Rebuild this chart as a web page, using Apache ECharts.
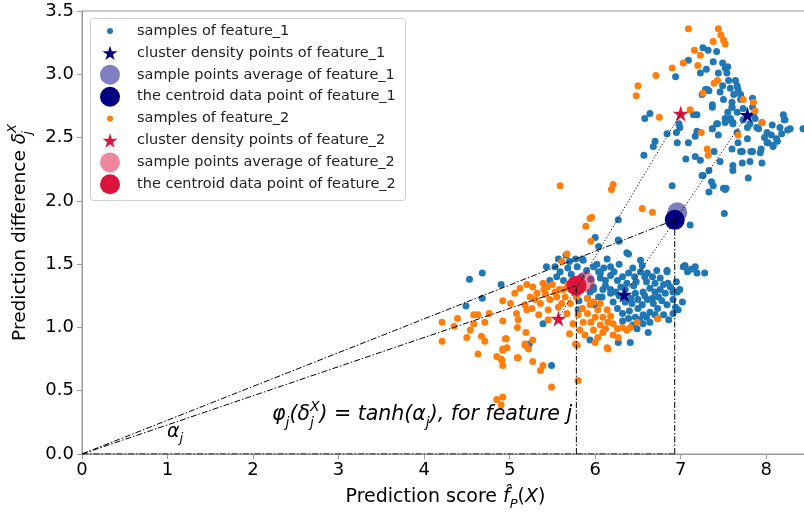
<!DOCTYPE html>
<html>
<head>
<meta charset="utf-8">
<script src="https://cdn.jsdelivr.net/npm/echarts@6/dist/echarts.min.js"></script>
<style>
  html, body { margin: 0; padding: 0; background: #fff; }
  #chart { width: 804px; height: 512px; }
</style>
</head>
<body>
<div id="chart"></div>
<script>
// samples of feature_1 (blue)
var samples1 = [
  [4.53,1.38],[4.68,1.43],[4.90,1.34],[4.49,1.17],[4.68,1.23],[5.43,1.48],[5.39,1.03],[5.23,0.87],
  [5.49,0.70],[5.57,1.54],[5.94,0.90],[5.53,1.48],[5.59,1.44],[5.47,1.37],[5.55,1.40],[5.63,1.37],
  [5.68,1.47],[5.77,1.54],[5.86,1.53],[5.98,1.48],[6.06,1.43],[6.12,1.37],[6.18,1.30],[6.08,1.24],
  [5.98,1.30],[6.00,1.18],[5.91,1.23],[5.81,1.21],[5.80,1.14],[6.14,1.54],[6.39,1.58],[6.53,1.53],
  [6.55,1.49],[6.18,1.48],[5.79,1.48],[5.85,1.54],[5.66,1.57],[6.04,1.44],[6.06,1.39],[6.18,1.41],
  [6.26,1.37],[6.32,1.40],[6.37,1.35],[6.39,1.43],[6.46,1.40],[6.53,1.44],[6.61,1.43],[6.67,1.40],
  [6.76,1.39],[6.84,1.44],[6.85,1.35],[6.76,1.30],[6.70,1.35],[6.64,1.31],[6.56,1.28],[6.47,1.27],
  [6.50,1.22],[6.43,1.19],[6.55,1.18],[6.61,1.22],[6.67,1.23],[6.74,1.24],[6.82,1.27],[6.91,1.28],
  [6.99,1.30],[7.05,1.49],[7.08,1.44],[7.17,1.48],[7.19,1.43],[7.02,1.20],[6.91,1.22],[6.84,1.18],
  [6.73,1.15],[6.64,1.12],[6.56,1.10],[6.47,1.08],[6.39,1.07],[6.32,1.11],[6.26,1.15],[6.21,1.20],
  [6.18,1.27],[6.09,1.30],[6.04,1.24],[5.98,1.32],[5.94,1.28],[6.80,1.10],[6.73,1.07],[6.64,1.04],
  [6.56,1.03],[6.49,0.99],[6.62,0.96],[6.41,0.88],[6.27,0.88],[6.91,1.11],[6.94,1.16],[7.03,1.48],
  [6.84,1.45],[6.96,1.28],[6.27,1.69],[6.04,1.64],[7.12,1.46],[7.28,1.43],[6.35,1.30],[6.45,1.33],
  [6.28,1.25],[6.70,1.28],[6.60,1.36],[6.88,1.32],[6.50,1.15],[6.35,1.20],
  [5.72,1.42],[5.90,1.45],[5.95,1.38],[6.02,1.50],[6.10,1.47],[6.22,1.44],[6.28,1.50],[6.44,1.47],
  [6.48,1.36],[6.58,1.40],[6.72,1.45],[6.80,1.34],[6.95,1.36],[6.68,1.19],[6.78,1.21],[6.58,1.25],
  [6.42,1.23],[6.30,1.32],[6.24,1.28],[6.12,1.33],[6.40,1.13],[6.52,1.06],[6.60,1.08],[6.70,1.10],
  [6.86,1.06],[6.97,1.14],[6.44,1.02],[6.32,1.05],[5.84,1.40],[5.70,1.52],
  [6.90,2.12],[6.27,1.85],[7.11,1.81],[6.28,1.68],[6.37,1.59],[6.00,1.71],[7.51,1.90],
  [7.79,2.18],[7.33,2.07],[7.50,2.10],[7.53,2.10],[7.36,2.15],[7.25,2.20],[7.33,2.24],[7.61,2.24],
  [7.61,2.28],[7.72,2.30],[7.81,2.31],[7.95,2.30],[7.93,2.38],[7.84,2.39],[7.72,2.39],[7.60,2.41],
  [7.46,2.31],[7.39,2.39],[7.23,2.32],[7.17,2.35],[7.06,2.33],[7.09,2.46],[6.96,2.46],[6.70,2.47],
  [6.68,2.43],[6.57,2.36],[6.84,2.53],[6.95,2.54],[6.99,2.58],[7.37,2.57],[7.44,2.52],[7.67,2.46],
  [7.78,2.49],[7.94,2.41],[8.01,2.46],[8.08,2.44],[8.13,2.47],[8.06,2.52],[8.01,2.54],[7.89,2.58],
  [8.07,2.60],[8.20,2.68],[8.21,2.64],[8.25,2.56],[8.28,2.57],[8.16,2.58],[7.95,2.62],[7.87,2.65],
  [7.81,2.61],[7.61,2.62],[7.58,2.65],[7.52,2.62],[7.73,2.64],[7.43,2.61],[7.37,2.74],[7.60,2.74],
  [7.15,2.68],[7.19,2.68],[6.64,2.69],[6.58,2.65],[8.43,2.57],[8.12,2.49],[7.66,2.54],[7.17,2.51],
  [7.19,2.55],[7.26,3.21],[7.32,3.19],[7.42,3.18],[7.09,3.11],[7.38,3.10],[7.49,3.09],[7.52,3.05],
  [7.30,3.04],[7.23,3.01],[7.54,3.01],[6.94,2.98],[7.56,2.95],[7.64,2.95],[7.66,2.91],[7.49,2.91],
  [7.58,2.89],[7.31,2.88],[7.67,2.88],[7.25,2.84],[7.70,2.84],[7.50,2.80],[7.60,2.78],[7.84,2.81],
  [7.37,2.76],[7.60,2.74],[7.84,2.74],[7.85,2.68],[7.52,2.65],[7.58,2.64],[7.61,2.61],[7.42,2.61],
  [6.98,2.61],[7.37,2.57],[7.91,2.57],[8.22,2.64],[8.02,2.46],[8.08,2.43],[7.70,2.39],[7.82,2.39],
  [7.38,2.12],[7.52,2.09],[7.26,2.20],[7.44,3.01],[7.29,2.88],[7.33,2.87],[7.70,2.80],[7.73,2.73],
  [7.66,2.70],[7.78,2.58],[7.98,2.50],[8.18,2.53],[7.55,2.70],[7.46,2.86],[7.62,2.84],[7.55,3.06]
];

// samples of feature_2 (orange)
var samples2 = [
  [4.21,1.04],[4.21,0.89],[4.39,1.07],[4.35,1.01],[4.50,0.92],[4.54,0.98],[4.58,1.10],[4.63,1.10],
  [4.58,1.03],[4.71,1.04],[4.76,1.11],[4.67,0.93],[4.71,0.89],[4.63,0.79],[4.92,1.21],[4.92,1.05],
  [4.96,0.91],[4.92,0.83],[4.97,0.84],[4.85,0.77],[4.90,0.75],[4.92,0.70],[5.09,1.00],[5.10,1.06],
  [5.08,1.11],[5.19,0.96],[5.18,0.87],[5.22,0.83],[5.10,0.76],[5.27,0.90],[5.27,0.73],[5.39,0.70],
  [5.36,0.66],[5.49,0.53],[4.85,0.43],[4.92,0.45],[4.90,0.39],[5.01,1.19],[5.06,1.27],[5.12,1.31],
  [5.20,1.34],[5.24,1.24],[5.26,1.15],[5.32,1.27],[5.36,1.19],[5.42,1.26],[5.45,1.14],[5.47,1.22],
  [5.53,1.28],[5.55,1.24],[5.61,1.19],[5.39,1.35],[5.27,1.32],[5.20,1.14],[5.18,1.18],[5.45,1.06],
  [5.63,1.30],[4.91,0.74],[5.09,0.76],[4.92,0.82],[4.95,0.91],[5.18,0.86],[5.80,0.58],[5.77,0.87],
  [5.88,0.94],[6.14,0.84],[5.67,1.58],[5.61,1.52],[5.95,1.68],[5.30,1.22],[5.40,1.30],[5.50,1.34],
  [5.65,1.24],[5.71,1.19],[5.67,1.11],[5.74,1.03],[5.82,0.98],[5.86,1.04],[5.91,1.11],[5.94,1.18],
  [5.91,1.23],[5.98,1.20],[6.03,1.14],[6.06,1.19],[6.09,1.08],[6.14,1.14],[6.15,1.04],[6.21,1.03],
  [6.26,0.99],[6.32,1.00],[6.37,0.98],[6.21,0.94],[6.27,0.92],[6.06,1.02],[6.09,0.96],[5.98,0.98],
  [6.03,0.92],[6.15,0.83],[6.73,1.07],[6.49,1.04],[6.41,1.00],[5.79,0.86],[5.72,1.30],[5.75,1.36],
  [6.00,1.08],[6.18,1.09],[5.85,1.15],[5.58,1.30],[5.68,1.34],[5.44,1.32],[5.34,1.10],[5.78,1.24],
  [5.80,1.10],[5.95,1.04],[6.12,0.99],[6.00,0.88],[5.70,0.95],[5.57,1.16],
  [5.59,2.12],[6.21,2.13],[6.19,2.09],[5.96,1.87],[5.94,1.86],[5.89,1.80],[6.55,1.94],[6.67,1.91],
  [7.09,3.36],[7.44,3.36],[7.47,3.31],[7.50,3.27],[7.52,3.24],[7.38,3.26],[7.16,3.19],[7.23,3.15],
  [7.03,3.09],[6.90,3.05],[6.71,2.99],[7.20,3.07],[7.43,2.95],[7.39,2.93],[7.26,2.85],[6.50,2.91],
  [6.48,2.83],[6.75,2.66],[7.11,2.72],[7.73,2.80],[7.85,2.78],[7.87,2.71],[7.95,2.62],[7.67,2.52],
  [7.24,2.54],[7.31,2.41],[7.32,2.36]
];

var stars1 = [[7.78,2.68],[6.34,1.26]];
var average1 = [[6.96,1.91]];
var centroid1 = [[6.93,1.85]];
var stars2 = [[7.00,2.69],[5.57,1.07]];
var average2 = [[5.88,1.36]];
var centroid2 = [[5.78,1.33]];

var xTicks = [0, 1, 2, 3, 4, 5, 6, 7, 8];
var yTicks = ['0.0', '0.5', '1.0', '1.5', '2.0', '2.5', '3.0', '3.5'];

var names = [
  'samples of feature_1',
  'cluster density points of feature_1',
  'sample points average of feature_1',
  'the centroid data point of feature_1',
  'samples of feature_2',
  'cluster density points of feature_2',
  'sample points average of feature_2',
  'the centroid data point of feature_2'
];

var FONT = 'DejaVu Sans';
var STAR = 'path://M100 0 L122.45 69.1 L195.1 69.1 L136.3 111.8 L158.8 180.9 L100 138.2 L41.2 180.9 L63.7 111.8 L4.9 69.1 L77.55 69.1 Z';
var legendIcon = [6, 15, 20, 20, 6, 15, 20, 20];

var chart = echarts.init(document.getElementById('chart'), null, { renderer: 'canvas' });

function guide(pts, dash) {
  return {
    type: 'line', data: pts, symbol: 'none', silent: true, z: 5,
    lineStyle: { color: '#000', width: 1, type: dash }
  };
}
function dots(i, data, symbol, size, color) {
  return {
    name: names[i], type: 'scatter', data: data, symbol: symbol, symbolSize: size,
    itemStyle: { color: color, opacity: 1 }
  };
}
var dashDot = [6, 2, 1.5, 2];
var dotted = [1.2, 2];

// one legend per row so every icon keeps its own size; icons centred on x=110, text from x=137
var legends = names.map(function (n, i) {
  var w = legendIcon[i];
  return {
    left: 110 - w / 2, top: 20 + i * 21.9, padding: 0, z: 12,
    itemWidth: w, itemHeight: w, itemGap: 0,
    selectedMode: false, data: [n],
    itemStyle: { opacity: 1 },
    textStyle: {
      fontFamily: FONT, fontSize: 14.5, color: '#222', lineHeight: 22,
      padding: [0, 0, 0, 22 - w / 2]
    }
  };
});

var sub = { fontFamily: FONT, fontSize: 13, fontStyle: 'italic', lineHeight: 13, verticalAlign: 'bottom', color: '#000' };
var subStack = Object.assign({}, sub, { width: 0 });
var sup = { fontFamily: FONT, fontSize: 13, fontStyle: 'italic', lineHeight: 13, verticalAlign: 'top', color: '#000' };

var option = {
  animation: false,
  backgroundColor: '#fff',
  grid: {
    left: 82, right: -5, top: 11, bottom: 58, outerBoundsMode: 'none', containLabel: false,
    show: true, borderColor: '#999', borderWidth: 1, backgroundColor: 'transparent'
  },
  legend: legends,
  xAxis: {
    type: 'value', min: 0, max: 8.5, interval: 1,
    name: '{a|Prediction score }{f|f\u0302}{s|P}{a|(}{f|X}{a|)}',
    nameLocation: 'middle', nameGap: 29,
    nameTextStyle: {
      rich: {
        a: { fontFamily: FONT, fontSize: 19, lineHeight: 28, color: '#000' },
        f: { fontFamily: FONT, fontSize: 19, fontStyle: 'italic', lineHeight: 28, color: '#000' },
        s: sub
      }
    },
    axisLine: { lineStyle: { color: '#999' } },
    axisTick: { length: 5, lineStyle: { color: '#999' } },
    axisLabel: {
      fontFamily: FONT, fontSize: 18, color: '#000', margin: 7,
      formatter: function (v) { return xTicks.indexOf(v) >= 0 ? String(v) : ''; }
    },
    splitLine: { show: false }
  },
  yAxis: {
    type: 'value', min: 0, max: 3.5, interval: 0.5,
    name: '{a|Prediction difference }{d|\u03b4}{j|j}{p|X}',
    nameLocation: 'middle', nameGap: 36, nameRotate: 90,
    nameTextStyle: {
      rich: {
        a: { fontFamily: FONT, fontSize: 18.5, lineHeight: 28, color: '#000' },
        d: { fontFamily: FONT, fontSize: 18.5, fontStyle: 'italic', lineHeight: 28, color: '#000' },
        j: subStack,
        p: sup
      }
    },
    axisLine: { lineStyle: { color: '#999' } },
    axisTick: { length: 5, lineStyle: { color: '#999' } },
    axisLabel: {
      fontFamily: FONT, fontSize: 18, color: '#000', margin: 8,
      formatter: function (v) { return yTicks[Math.round(v * 2)] || ''; }
    },
    splitLine: { show: false }
  },
  series: [
    dots(0, samples1, 'circle', 7, '#1f77b4'),
    dots(1, stars1, STAR, 16, '#000080'),
    dots(2, average1, 'circle', 20, 'rgba(0,0,128,0.5)'),
    dots(3, centroid1, 'circle', 20, '#000080'),
    dots(4, samples2, 'circle', 7, '#ff7f0e'),
    dots(5, stars2, STAR, 16, '#dc143c'),
    dots(6, average2, 'circle', 20, 'rgba(220,20,60,0.5)'),
    dots(7, centroid2, 'circle', 20, '#dc143c'),
    guide([[0, 0], centroid1[0]], dashDot),
    guide([[0, 0], centroid2[0]], dashDot),
    guide([[centroid1[0][0], 0], centroid1[0]], dashDot),
    guide([[centroid2[0][0], 0], centroid2[0]], dashDot),
    guide([[0, 0], [centroid1[0][0], 0]], dashDot),
    guide(stars1, dotted),
    guide(stars2, dotted)
  ],
  graphic: [
    {
      type: 'rect', left: 90, top: 18, z: 8, silent: true,
      shape: { width: 315, height: 182, r: 3 },
      style: { fill: 'rgba(255,255,255,0.8)', stroke: '#d0d0d0', lineWidth: 1 }
    },
    {
      type: 'text', left: 272, top: 400, z: 10,
      style: {
        text: '{i|\u03c6}{s|j}{i|(\u03b4}{t|j}{p|X}{i|)}{n| = }{i|tanh(\u03b1}{s|j}{i|), for feature j}',
        rich: {
          i: { fontFamily: FONT, fontSize: 20.5, fontStyle: 'italic', lineHeight: 30, fill: '#000' },
          n: { fontFamily: FONT, fontSize: 20.5, lineHeight: 30, fill: '#000' },
          s: { fontFamily: FONT, fontSize: 14, fontStyle: 'italic', lineHeight: 14, verticalAlign: 'bottom', fill: '#000' },
          t: { fontFamily: FONT, fontSize: 14, fontStyle: 'italic', lineHeight: 14, verticalAlign: 'bottom', width: 0, fill: '#000' },
          p: { fontFamily: FONT, fontSize: 14, fontStyle: 'italic', lineHeight: 14, verticalAlign: 'top', fill: '#000' }
        }
      }
    },
    {
      type: 'text', left: 167, top: 423, z: 10,
      style: {
        text: '{i|\u03b1}{s|j}',
        rich: {
          i: { fontFamily: FONT, fontSize: 19, fontStyle: 'italic', lineHeight: 26, fill: '#000' },
          s: { fontFamily: FONT, fontSize: 13, fontStyle: 'italic', lineHeight: 13, verticalAlign: 'bottom', fill: '#000' }
        }
      }
    }
  ]
};

chart.setOption(option);
</script>
</body>
</html>
